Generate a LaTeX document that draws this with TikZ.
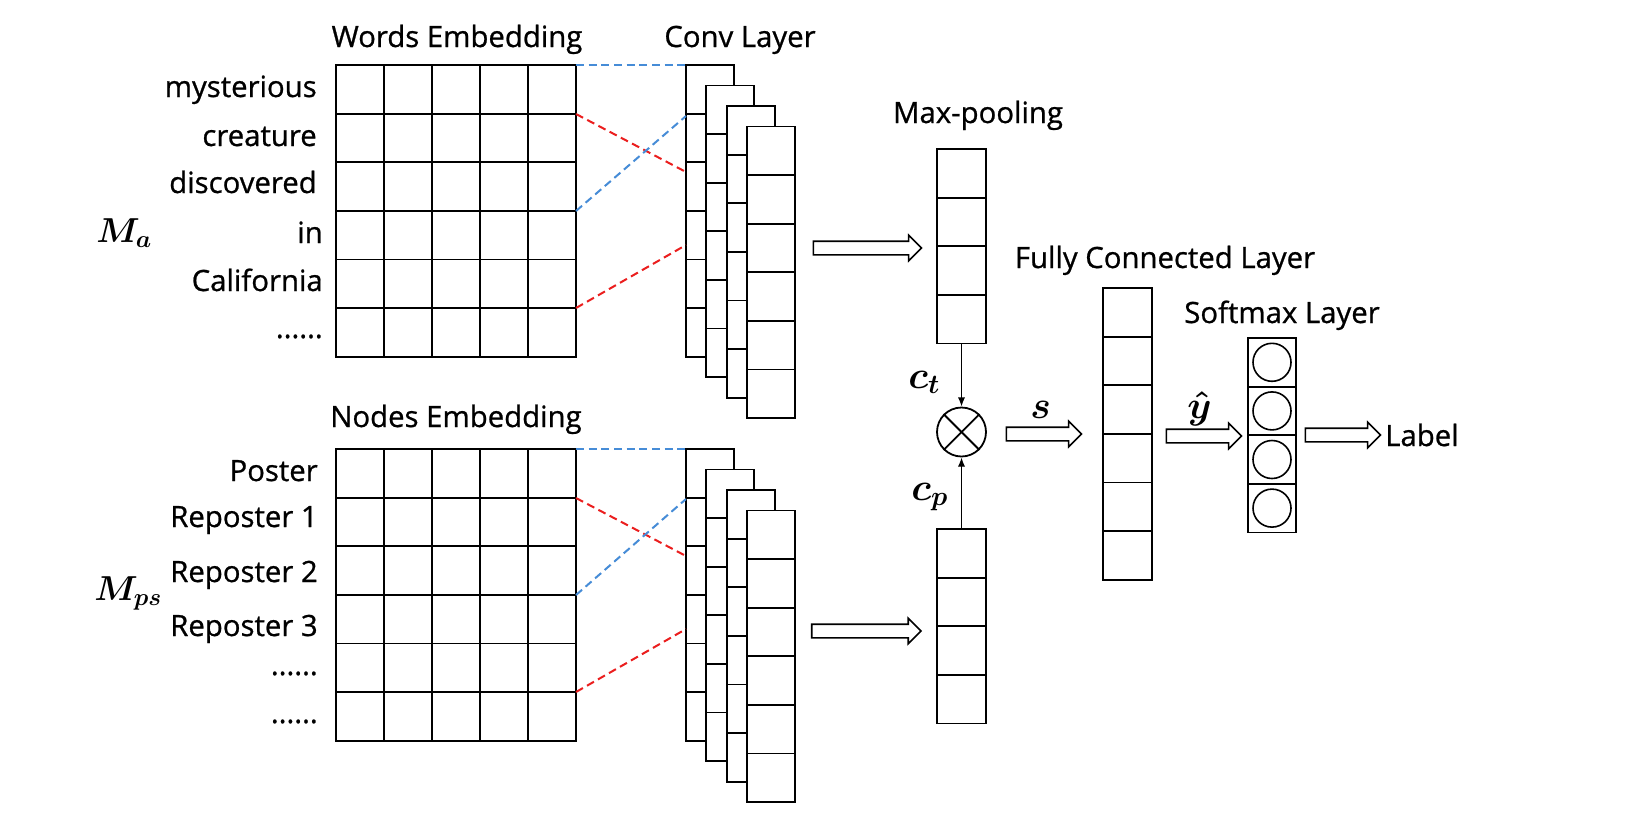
\RequirePackage{fix-cm}
\documentclass[tikz,border=0pt]{standalone}
\usepackage{amsmath}
\usepackage{fontspec}
\setmainfont{Open Sans}[FakeBold=0.8]
\usetikzlibrary{shapes.arrows,arrows.meta}
\definecolor{dblue}{RGB}{70,140,215}
\definecolor{dred}{RGB}{235,30,30}
\newcommand\cellcol[5]{% name, x, y, width(px), ncells
  \node[cellbox, minimum width=#4*0.75pt, minimum height=#5*48.6*0.75pt, anchor=north west] (#1) at (#2,#3) {};
  \pgfmathtruncatemacro\nmone{#5-1}
  \foreach \k in {1,...,\nmone}{\draw[ln] (#1.north west) ++(0,\k*48.6) -- ++(#4,0);}
}
\begin{document}
\begin{tikzpicture}[x=0.75pt,y=-0.75pt,
  ln/.style={line width=1.35pt},
  cellbox/.style={draw, ln, fill=white, inner sep=0pt, outer sep=0pt, rectangle},
  lbl/.style={font=\fontsize{22}{26}\selectfont, inner sep=0pt},
  mth/.style={font=\fontsize{29}{33}\selectfont\boldmath, inner sep=0pt},
  bluedash/.style={draw=dblue, line width=1.5pt, dash pattern=on 6pt off 3.5pt},
  reddash/.style={draw=dred, line width=1.5pt, dash pattern=on 6pt off 3.5pt},
  fat/.style={single arrow, draw, line width=1.2pt, fill=white, inner sep=0pt, text height=4.5pt, text depth=4.5pt, single arrow head extend=4.5pt, single arrow tip angle=90, shape border uses incircle=false},
  thin/.style={line width=1.1pt, -{Latex[length=7pt,width=5.5pt]}}
]
\fill[white] (0,0) rectangle (1633,826);
\useasboundingbox (0,0) rectangle (1633,826);

% ---------- top branch ----------
\node[cellbox, minimum width=240*0.75pt, minimum height=6*48.6*0.75pt, anchor=north west] (we) at (336,65) {};
\foreach \k in {1,...,4}{\draw[ln] (we.north west) ++(\k*48,0) -- ++(0,291.6);}
\foreach \k in {1,...,5}{\draw[ln] (we.north west) ++(0,\k*48.6) -- ++(240,0);}

\cellcol{cva}{686}{65}{48}{6}
\cellcol{cvb}{706.3}{85.5}{48}{6}
\cellcol{cvc}{726.6}{106}{48}{6}
\cellcol{cvd}{747}{126.5}{48}{6}

\coordinate (wa0) at (576,65);  \coordinate (ca0) at (686,65);
\coordinate (wa1) at (576,114); \coordinate (ca1) at (686,172);
\coordinate (wa3) at (576,211); \coordinate (ca3) at (686,116);
\coordinate (wa5) at (576,308); \coordinate (ca5) at (686,245);
\draw[bluedash] (wa0) -- (ca0);
\draw[reddash] (wa1) -- (ca1);
\draw[bluedash] (wa3) -- (ca3);
\draw[reddash] (wa5) -- (ca5);

\node[lbl, anchor=base] (twe) at (457,47) {Words Embedding};
\node[lbl, anchor=base] (tcv) at (740,47) {Conv Layer};
\node[lbl, anchor=base east] (w1) at (317,97) {mysterious};
\node[lbl, anchor=base east] (w2) at (317,146) {creature};
\node[lbl, anchor=base east] (w3) at (317,193) {discovered};
\node[lbl, anchor=base east] (w4) at (323,243) {in};
\node[lbl, anchor=base east] (w5) at (323,291) {California};
\node[lbl, anchor=base east] (w6) at (323,338) {......};
\node[mth, anchor=base west, font=\fontsize{26}{30}\selectfont\boldmath] (ma) at (96,242) {$M_a$};

% ---------- bottom branch ----------
\node[cellbox, minimum width=240*0.75pt, minimum height=6*48.6*0.75pt, anchor=north west] (ne) at (336,449) {};
\foreach \k in {1,...,4}{\draw[ln] (ne.north west) ++(\k*48,0) -- ++(0,291.6);}
\foreach \k in {1,...,5}{\draw[ln] (ne.north west) ++(0,\k*48.6) -- ++(240,0);}

\cellcol{cwa}{686}{449}{48}{6}
\cellcol{cwb}{706.3}{469.5}{48}{6}
\cellcol{cwc}{726.6}{490}{48}{6}
\cellcol{cwd}{747}{510.5}{48}{6}

\coordinate (nb0) at (576,449); \coordinate (cb0) at (686,449);
\coordinate (nb1) at (576,498); \coordinate (cb1) at (686,556);
\coordinate (nb3) at (576,595); \coordinate (cb3) at (686,499);
\coordinate (nb5) at (576,692); \coordinate (cb5) at (686,629);
\draw[bluedash] (nb0) -- (cb0);
\draw[reddash] (nb1) -- (cb1);
\draw[bluedash] (nb3) -- (cb3);
\draw[reddash] (nb5) -- (cb5);

\node[lbl, anchor=base] (tne) at (456,427) {Nodes Embedding};
\node[lbl, anchor=base east] (n1) at (318,481) {Poster};
\node[lbl, anchor=base east] (n2) at (318,527) {Reposter 1};
\node[lbl, anchor=base east] (n3) at (318,582) {Reposter 2};
\node[lbl, anchor=base east] (n4) at (318,636) {Reposter 3};
\node[lbl, anchor=base east] (n5) at (318,675) {......};
\node[lbl, anchor=base east] (n6) at (318,723) {......};
\node[mth, anchor=base west, font=\fontsize{26}{30}\selectfont\boldmath] (mps) at (94,600) {$M_{ps}$};

% ---------- pooling ----------
\node[fat, minimum height=81pt] (ar1) at (864,248) {};
\node[fat, minimum height=82pt] (ar2) at (863,631) {};
\cellcol{mpt}{937}{149}{49}{4}
\cellcol{mpb}{937}{529}{49}{4}
\node[lbl, anchor=base] (tmp) at (978,123) {Max-pooling};

\node[draw, circle, ln, minimum size=49*0.75pt, inner sep=0pt] (mult) at (961.5,432) {};
\draw[ln] (mult.north west) -- (mult.south east);
\draw[ln] (mult.north east) -- (mult.south west);
\draw[thin] (mpt.south) -- (mult.north);
\draw[thin] (mpb.north) -- (mult.south);
\node[mth, anchor=base west] (ct) at (908,388) {$c_t$};
\node[mth, anchor=base west] (cp) at (911,500) {$c_p$};

% ---------- fully connected / softmax ----------
\node[fat, minimum height=56.25pt] (ar3) at (1040.5,434) {};
\node[mth, anchor=base west] (sl) at (1030,418) {$s$};
\cellcol{fc}{1103}{288}{49}{6}
\node[lbl, anchor=base] (tfc) at (1165,268) {Fully Connected Layer};

\node[fat, minimum height=56.25pt] (ar4) at (1200.5,436) {};
\node[mth, anchor=base west] (yl) at (1187,418) {$\hat{y}$};
\cellcol{sm}{1248}{338}{48}{4}
\foreach \k in {0,...,3}{\node[draw, circle, line width=1.2pt, minimum size=38*0.75pt, inner sep=0pt] (c\k) at (1272,{338+24.3+\k*48.6}) {};}
\node[lbl, anchor=base] (tsm) at (1282,323) {Softmax Layer};

\node[fat, minimum height=56.25pt] (ar5) at (1339.5,435) {};
\node[lbl, anchor=base west] (lab) at (1385,446) {Label};
\end{tikzpicture}
\end{document}
